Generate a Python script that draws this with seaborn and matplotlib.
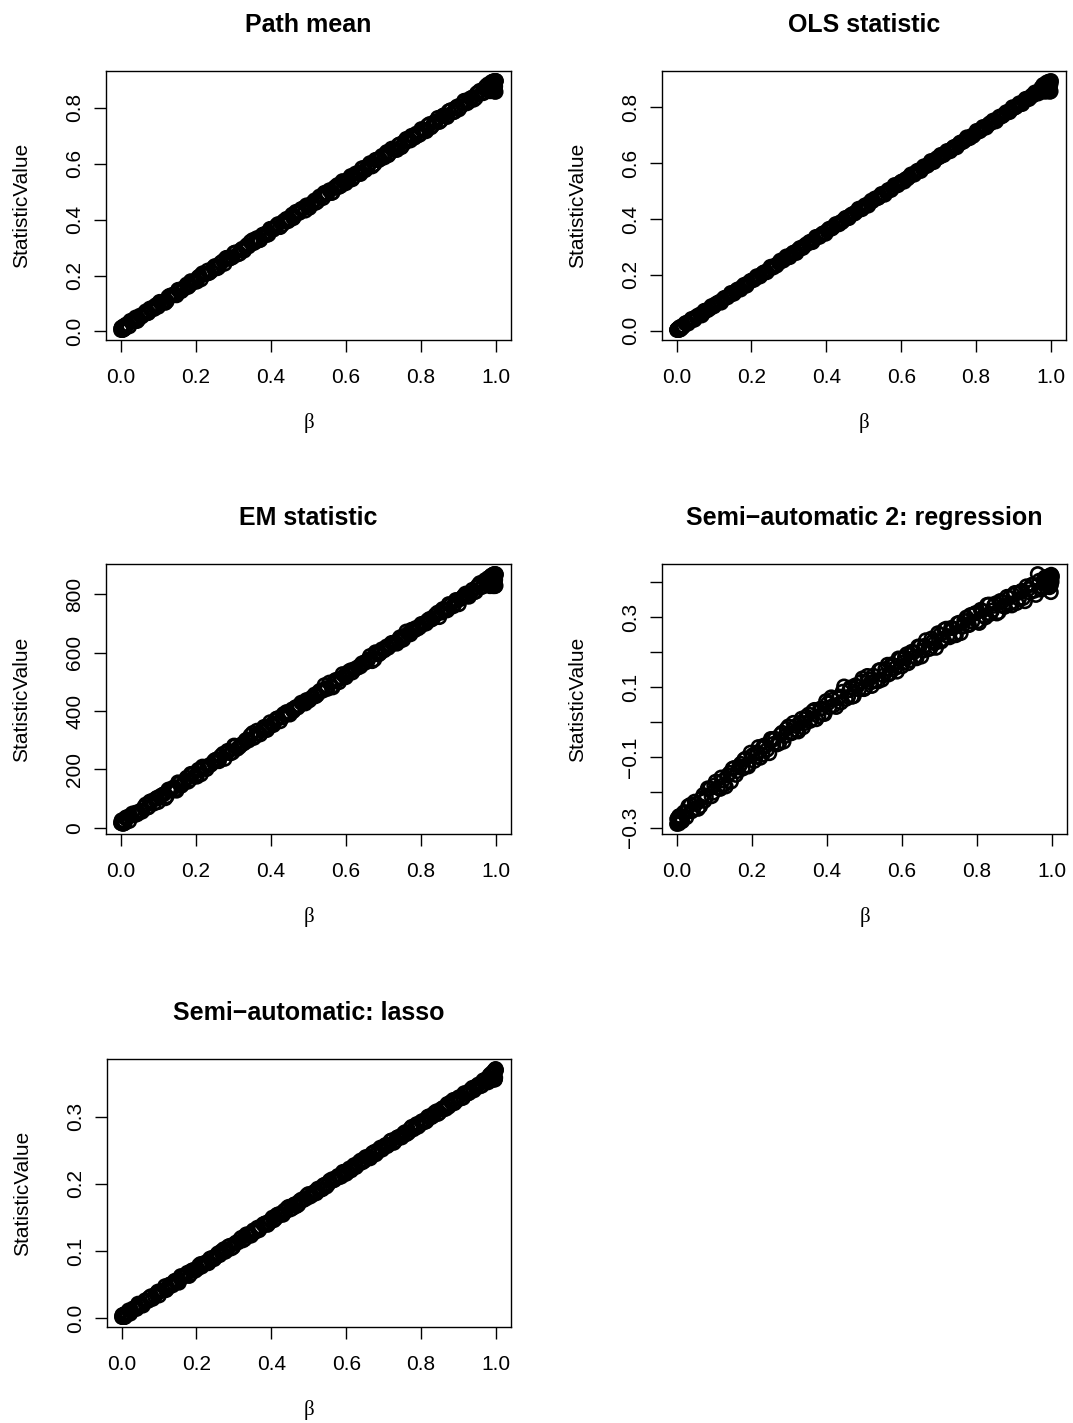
import numpy as np
import matplotlib
matplotlib.use("Agg")
import matplotlib.pyplot as plt
import seaborn as sns

# Simulated beta values shared by every summary statistic (two batches)
beta_a = [
    0.002, 0.011, 0.019, 0.026, 0.037, 0.044, 0.052, 0.063, 0.071, 0.078,
    0.089, 0.097, 0.104, 0.116, 0.123, 0.131, 0.142, 0.149, 0.158, 0.167,
    0.176, 0.184, 0.191, 0.203, 0.211, 0.218, 0.229, 0.236, 0.247, 0.255,
    0.262, 0.273, 0.281, 0.289, 0.298, 0.306, 0.317, 0.324, 0.333, 0.341,
    0.352, 0.359, 0.367, 0.378, 0.386, 0.394, 0.403, 0.412, 0.419, 0.431,
    0.438, 0.446, 0.457, 0.463, 0.472, 0.481, 0.492, 0.499, 0.508, 0.517,
    0.524, 0.536, 0.543, 0.551, 0.562, 0.569, 0.578, 0.587, 0.596, 0.604,
    0.613, 0.621, 0.632, 0.639, 0.648, 0.657, 0.664, 0.676, 0.683, 0.691,
    0.702, 0.709, 0.718, 0.727, 0.736, 0.744, 0.753, 0.761, 0.772, 0.779,
    0.788, 0.797, 0.806, 0.814, 0.823, 0.832, 0.841, 0.849, 0.858, 0.867,
    0.874, 0.886, 0.893, 0.901, 0.912, 0.919, 0.928, 0.937, 0.946, 0.953,
    0.962, 0.971, 0.978, 0.986, 0.993, 0.998, 0.004, 0.995, 0.999, 0.990,
    0.001, 0.007, 0.003, 0.997, 1.000, 0.996, 0.992, 0.006, 0.999, 0.994,
]
beta_b = [
    0.006, 0.015, 0.023, 0.031, 0.040, 0.048, 0.057, 0.067, 0.074, 0.083,
    0.093, 0.100, 0.110, 0.119, 0.127, 0.136, 0.145, 0.153, 0.162, 0.171,
    0.180, 0.187, 0.197, 0.207, 0.214, 0.223, 0.232, 0.241, 0.251, 0.258,
    0.267, 0.277, 0.285, 0.293, 0.302, 0.311, 0.320, 0.329, 0.337, 0.346,
    0.355, 0.363, 0.372, 0.382, 0.390, 0.398, 0.407, 0.415, 0.425, 0.434,
    0.442, 0.451, 0.460, 0.467, 0.476, 0.486, 0.495, 0.503, 0.512, 0.520,
    0.530, 0.539, 0.547, 0.556, 0.565, 0.573, 0.582, 0.591, 0.600, 0.608,
    0.617, 0.626, 0.635, 0.643, 0.652, 0.660, 0.670, 0.679, 0.687, 0.696,
    0.705, 0.713, 0.722, 0.731, 0.740, 0.748, 0.757, 0.766, 0.775, 0.783,
    0.792, 0.801, 0.810, 0.818, 0.827, 0.836, 0.845, 0.853, 0.862, 0.870,
    0.880, 0.889, 0.897, 0.906, 0.915, 0.923, 0.932, 0.941, 0.949, 0.957,
    0.966, 0.974, 0.982, 0.989, 0.996, 0.985, 0.009, 0.013, 0.997, 0.988,
    0.002, 0.005, 0.008, 0.991, 0.998, 0.993, 0.984, 0.010, 0.979, 0.987,
]

path_mean_a = [
    0.012, 0.010, 0.025, 0.038, 0.036, 0.037, 0.057, 0.062, 0.065, 0.082,
    0.080, 0.095, 0.106, 0.107, 0.108, 0.128, 0.133, 0.129, 0.150, 0.151,
    0.168, 0.165, 0.177, 0.178, 0.198, 0.208, 0.206, 0.209, 0.228, 0.232,
    0.231, 0.252, 0.263, 0.260, 0.265, 0.283, 0.278, 0.296, 0.302, 0.304,
    0.327, 0.321, 0.325, 0.346, 0.350, 0.347, 0.367, 0.370, 0.384, 0.382,
    0.397, 0.394, 0.418, 0.412, 0.425, 0.438, 0.432, 0.450, 0.453, 0.469,
    0.464, 0.484, 0.496, 0.492, 0.495, 0.513, 0.524, 0.521, 0.535, 0.538,
    0.556, 0.552, 0.567, 0.563, 0.585, 0.587, 0.602, 0.598, 0.614, 0.616,
    0.622, 0.642, 0.639, 0.653, 0.649, 0.670, 0.669, 0.689, 0.683, 0.697,
    0.708, 0.704, 0.722, 0.716, 0.742, 0.738, 0.752, 0.749, 0.771, 0.770,
    0.788, 0.784, 0.800, 0.794, 0.816, 0.826, 0.822, 0.837, 0.835, 0.855,
    0.853, 0.872, 0.862, 0.884, 0.895, 0.877, 0.006, 0.873, 0.896, 0.876,
    0.005, 0.015, 0.014, 0.858, 0.896, 0.867, 0.859, 0.005, 0.857, 0.894,
]
path_mean_b = [
    0.008, 0.025, 0.018, 0.037, 0.050, 0.044, 0.054, 0.072, 0.066, 0.083,
    0.093, 0.088, 0.105, 0.102, 0.124, 0.129, 0.130, 0.149, 0.144, 0.158,
    0.159, 0.180, 0.177, 0.194, 0.186, 0.205, 0.218, 0.215, 0.234, 0.226,
    0.246, 0.242, 0.264, 0.262, 0.281, 0.275, 0.291, 0.289, 0.309, 0.321,
    0.316, 0.334, 0.327, 0.347, 0.345, 0.367, 0.364, 0.378, 0.373, 0.394,
    0.403, 0.400, 0.405, 0.428, 0.424, 0.440, 0.451, 0.442, 0.461, 0.460,
    0.483, 0.477, 0.493, 0.505, 0.497, 0.518, 0.517, 0.538, 0.530, 0.546,
    0.544, 0.565, 0.565, 0.584, 0.577, 0.594, 0.590, 0.614, 0.612, 0.628,
    0.633, 0.630, 0.654, 0.649, 0.667, 0.659, 0.681, 0.682, 0.700, 0.693,
    0.701, 0.724, 0.719, 0.737, 0.730, 0.749, 0.764, 0.754, 0.774, 0.767,
    0.792, 0.785, 0.805, 0.804, 0.825, 0.816, 0.834, 0.829, 0.852, 0.861,
    0.852, 0.878, 0.863, 0.889, 0.894, 0.863, 0.010, 0.021, 0.868, 0.892,
    0.012, 0.006, 0.019, 0.861, 0.894, 0.894, 0.859, 0.010, 0.884, 0.870,
]

ols_stat_a = [
    0.004, 0.007, 0.016, 0.028, 0.035, 0.038, 0.049, 0.058, 0.062, 0.072,
    0.079, 0.087, 0.095, 0.104, 0.110, 0.118, 0.127, 0.132, 0.141, 0.149,
    0.157, 0.164, 0.170, 0.181, 0.188, 0.194, 0.204, 0.210, 0.220, 0.227,
    0.233, 0.243, 0.250, 0.257, 0.265, 0.272, 0.282, 0.288, 0.296, 0.303,
    0.313, 0.319, 0.326, 0.336, 0.343, 0.350, 0.358, 0.366, 0.372, 0.382,
    0.389, 0.396, 0.405, 0.411, 0.419, 0.427, 0.436, 0.443, 0.451, 0.459,
    0.465, 0.475, 0.482, 0.489, 0.498, 0.505, 0.513, 0.521, 0.529, 0.536,
    0.544, 0.551, 0.560, 0.567, 0.575, 0.582, 0.589, 0.599, 0.606, 0.613,
    0.622, 0.629, 0.636, 0.644, 0.652, 0.659, 0.667, 0.675, 0.684, 0.690,
    0.698, 0.706, 0.714, 0.721, 0.729, 0.737, 0.745, 0.752, 0.760, 0.768,
    0.774, 0.785, 0.791, 0.798, 0.808, 0.814, 0.822, 0.830, 0.838, 0.844,
    0.852, 0.860, 0.866, 0.874, 0.892, 0.880, 0.004, 0.878, 0.887, 0.877,
    0.002, 0.007, 0.004, 0.856, 0.895, 0.863, 0.859, 0.003, 0.858, 0.887,
]
ols_stat_b = [
    0.008, 0.010, 0.026, 0.025, 0.042, 0.039, 0.054, 0.054, 0.071, 0.073,
    0.088, 0.087, 0.100, 0.100, 0.117, 0.119, 0.135, 0.132, 0.147, 0.147,
    0.164, 0.161, 0.178, 0.182, 0.195, 0.194, 0.208, 0.209, 0.229, 0.226,
    0.233, 0.251, 0.251, 0.266, 0.263, 0.279, 0.278, 0.296, 0.296, 0.309,
    0.318, 0.317, 0.336, 0.336, 0.348, 0.347, 0.365, 0.366, 0.382, 0.381,
    0.389, 0.404, 0.403, 0.416, 0.420, 0.437, 0.435, 0.449, 0.448, 0.466,
    0.474, 0.476, 0.490, 0.487, 0.504, 0.504, 0.522, 0.521, 0.534, 0.534,
    0.545, 0.560, 0.559, 0.573, 0.572, 0.589, 0.591, 0.608, 0.604, 0.619,
    0.630, 0.629, 0.644, 0.643, 0.658, 0.657, 0.674, 0.677, 0.693, 0.690,
    0.698, 0.716, 0.715, 0.730, 0.728, 0.743, 0.753, 0.750, 0.767, 0.769,
    0.783, 0.783, 0.801, 0.801, 0.815, 0.812, 0.831, 0.830, 0.843, 0.854,
    0.850, 0.871, 0.860, 0.885, 0.893, 0.861, 0.004, 0.015, 0.865, 0.889,
    0.004, 0.002, 0.012, 0.858, 0.892, 0.890, 0.856, 0.004, 0.881, 0.867,
]

em_stat_a = [
    23, 16, 37, 40, 43, 46, 58, 72, 69, 90,
    83, 103, 107, 116, 108, 132, 139, 127, 154, 152,
    172, 164, 183, 175, 198, 210, 201, 213, 226, 234,
    228, 254, 257, 263, 258, 281, 278, 287, 300, 299,
    325, 314, 325, 336, 344, 343, 355, 367, 376, 378,
    387, 390, 406, 409, 412, 429, 426, 435, 445, 457,
    456, 471, 489, 476, 483, 502, 506, 512, 521, 527,
    540, 542, 549, 553, 566, 573, 589, 577, 599, 598,
    608, 622, 626, 631, 631, 653, 645, 673, 663, 680,
    686, 688, 698, 700, 716, 717, 733, 722, 750, 746,
    767, 759, 781, 766, 791, 803, 792, 816, 809, 832,
    825, 849, 833, 862, 863, 851, 17, 841, 870, 848,
    16, 20, 26, 828, 868, 842, 828, 17, 830, 869,
]
em_stat_b = [
    13, 36, 23, 49, 52, 52, 55, 80, 70, 92,
    99, 88, 112, 101, 131, 131, 130, 156, 144, 161,
    158, 185, 176, 199, 183, 207, 212, 217, 232, 229,
    246, 236, 264, 255, 282, 271, 284, 290, 303, 317,
    308, 333, 320, 346, 335, 362, 352, 374, 365, 390,
    397, 388, 400, 414, 419, 429, 438, 437, 449, 451,
    469, 470, 479, 498, 481, 507, 499, 527, 516, 536,
    532, 546, 553, 564, 566, 577, 571, 602, 594, 612,
    613, 617, 634, 636, 644, 643, 657, 666, 679, 677,
    683, 699, 701, 711, 713, 726, 738, 737, 749, 745,
    765, 766, 779, 785, 796, 793, 804, 807, 825, 839,
    828, 847, 839, 856, 870, 835, 15, 33, 839, 865,
    17, 18, 24, 840, 862, 868, 828, 21, 856, 847,
]

semi_reg_a = [
    -0.276, -0.283, -0.257, -0.271, -0.235, -0.248, -0.232, -0.239, -0.207, -0.214,
    -0.188, -0.201, -0.169, -0.190, -0.166, -0.183, -0.144, -0.132, -0.150, -0.125,
    -0.132, -0.103, -0.126, -0.093, -0.098, -0.070, -0.092, -0.069, -0.088, -0.050,
    -0.046, -0.060, -0.029, -0.039, -0.011, -0.031, -0.010, -0.026, 0.011, -0.002,
    0.023, 0.009, 0.036, 0.018, 0.040, 0.024, 0.055, 0.072, 0.049, 0.069,
    0.057, 0.103, 0.073, 0.100, 0.075, 0.103, 0.116, 0.095, 0.133, 0.114,
    0.134, 0.117, 0.150, 0.134, 0.165, 0.141, 0.163, 0.145, 0.181, 0.171,
    0.195, 0.177, 0.201, 0.183, 0.217, 0.205, 0.235, 0.211, 0.232, 0.213,
    0.251, 0.238, 0.268, 0.243, 0.269, 0.249, 0.285, 0.273, 0.300, 0.278,
    0.288, 0.313, 0.284, 0.319, 0.300, 0.337, 0.320, 0.340, 0.315, 0.344,
    0.330, 0.356, 0.334, 0.370, 0.353, 0.376, 0.346, 0.381, 0.393, 0.376,
    0.424, 0.379, 0.407, 0.414, 0.386, 0.422, -0.285, 0.415, 0.401, 0.402,
    -0.290, -0.270, -0.276, 0.372, 0.418, 0.403, 0.416, -0.289, 0.412, 0.397,
]
semi_reg_b = [
    -0.268, -0.282, -0.256, -0.239, -0.254, -0.226, -0.247, -0.217, -0.224, -0.188,
    -0.211, -0.180, -0.187, -0.157, -0.177, -0.151, -0.169, -0.130, -0.139, -0.118,
    -0.106, -0.123, -0.086, -0.110, -0.085, -0.101, -0.066, -0.078, -0.047, -0.061,
    -0.063, -0.034, -0.055, -0.018, -0.031, -0.001, -0.022, 0.000, -0.014, 0.017,
    0.004, 0.032, 0.009, 0.039, 0.025, 0.061, 0.043, 0.065, 0.044, 0.074,
    0.088, 0.067, 0.092, 0.073, 0.106, 0.094, 0.126, 0.099, 0.123, 0.104,
    0.119, 0.149, 0.122, 0.153, 0.137, 0.166, 0.155, 0.183, 0.160, 0.186,
    0.169, 0.202, 0.188, 0.217, 0.188, 0.219, 0.209, 0.240, 0.226, 0.255,
    0.231, 0.265, 0.247, 0.270, 0.249, 0.283, 0.255, 0.290, 0.278, 0.307,
    0.310, 0.288, 0.322, 0.304, 0.336, 0.310, 0.333, 0.311, 0.347, 0.333,
    0.359, 0.340, 0.364, 0.341, 0.371, 0.355, 0.389, 0.371, 0.394, 0.364,
    0.405, 0.386, 0.415, 0.392, 0.418, 0.414, -0.271, -0.279, 0.392, 0.409,
    -0.275, -0.284, -0.267, 0.418, 0.403, 0.392, 0.409, -0.271, 0.409, 0.398,
]

lasso_a = [
    0.005, 0.005, 0.012, 0.011, 0.016, 0.022, 0.020, 0.027, 0.026, 0.033,
    0.033, 0.040, 0.040, 0.048, 0.045, 0.051, 0.056, 0.055, 0.063, 0.063,
    0.068, 0.066, 0.072, 0.074, 0.081, 0.081, 0.084, 0.089, 0.088, 0.095,
    0.094, 0.103, 0.102, 0.108, 0.106, 0.113, 0.118, 0.116, 0.125, 0.123,
    0.131, 0.130, 0.131, 0.140, 0.142, 0.142, 0.150, 0.149, 0.155, 0.154,
    0.159, 0.166, 0.164, 0.170, 0.169, 0.177, 0.178, 0.185, 0.183, 0.189,
    0.193, 0.192, 0.199, 0.199, 0.207, 0.206, 0.212, 0.211, 0.218, 0.218,
    0.220, 0.228, 0.229, 0.235, 0.234, 0.240, 0.238, 0.248, 0.247, 0.254,
    0.256, 0.256, 0.264, 0.261, 0.269, 0.269, 0.275, 0.274, 0.283, 0.281,
    0.289, 0.288, 0.294, 0.293, 0.301, 0.301, 0.308, 0.306, 0.313, 0.312,
    0.315, 0.325, 0.323, 0.329, 0.328, 0.335, 0.335, 0.343, 0.343, 0.348,
    0.346, 0.355, 0.353, 0.361, 0.366, 0.358, 0.003, 0.356, 0.369, 0.356,
    0.002, 0.006, 0.002, 0.355, 0.369, 0.366, 0.355, 0.002, 0.371, 0.363,
]
lasso_b = [
    0.002, 0.008, 0.007, 0.015, 0.014, 0.020, 0.019, 0.026, 0.031, 0.029,
    0.037, 0.034, 0.042, 0.042, 0.050, 0.049, 0.056, 0.053, 0.061, 0.065,
    0.063, 0.071, 0.071, 0.079, 0.077, 0.083, 0.082, 0.090, 0.091, 0.097,
    0.100, 0.099, 0.107, 0.104, 0.111, 0.113, 0.120, 0.118, 0.125, 0.123,
    0.128, 0.135, 0.135, 0.141, 0.139, 0.146, 0.146, 0.154, 0.154, 0.160,
    0.164, 0.162, 0.169, 0.167, 0.175, 0.176, 0.183, 0.181, 0.187, 0.186,
    0.191, 0.198, 0.196, 0.205, 0.205, 0.209, 0.210, 0.218, 0.215, 0.223,
    0.225, 0.225, 0.233, 0.232, 0.240, 0.239, 0.246, 0.244, 0.251, 0.251,
    0.258, 0.258, 0.265, 0.264, 0.270, 0.269, 0.277, 0.276, 0.285, 0.283,
    0.285, 0.293, 0.292, 0.300, 0.299, 0.306, 0.304, 0.311, 0.311, 0.319,
    0.322, 0.320, 0.327, 0.327, 0.335, 0.334, 0.340, 0.339, 0.346, 0.345,
    0.354, 0.352, 0.361, 0.355, 0.369, 0.363, 0.002, 0.007, 0.356, 0.362,
    0.004, 0.004, 0.003, 0.366, 0.370, 0.355, 0.361, 0.007, 0.351, 0.355,
]

titles = ["Path mean", "OLS statistic", "EM statistic",
          "Semi\u2212automatic 2: regression", "Semi\u2212automatic: lasso"]
x_ticks = [0.0, 0.2, 0.4, 0.6, 0.8, 1.0]
x_tick_labels = ["0.0", "0.2", "0.4", "0.6", "0.8", "1.0"]
y_tick_sets = [
    ([0.0, 0.2, 0.4, 0.6, 0.8], ["0.0", "0.2", "0.4", "0.6", "0.8"]),
    ([0.0, 0.2, 0.4, 0.6, 0.8], ["0.0", "0.2", "0.4", "0.6", "0.8"]),
    ([0, 200, 400, 600, 800], ["0", "200", "400", "600", "800"]),
    ([-0.3, -0.2, -0.1, 0.0, 0.1, 0.2, 0.3, 0.4],
     ["\u22120.3", "", "\u22120.1", "", "0.1", "", "0.3", ""]),
    ([0.0, 0.1, 0.2, 0.3], ["0.0", "0.1", "0.2", "0.3"]),
]
series = [
    (path_mean_a, path_mean_b),
    (ols_stat_a, ols_stat_b),
    (em_stat_a, em_stat_b),
    (semi_reg_a, semi_reg_b),
    (lasso_a, lasso_b),
]

sns.set_style("ticks")
plt.rcParams["font.family"] = ["Liberation Sans", "DejaVu Sans"]
plt.rcParams["text.color"] = "black"
plt.rcParams["axes.labelcolor"] = "black"

W, H = 1073, 1423
fig = plt.figure(figsize=(W / 100, H / 100), dpi=100)

# plot-region boxes in pixels: left, top, right, bottom
boxes = [
    (106, 71, 511, 340),
    (662, 71, 1066, 340),
    (106, 564, 511, 834),
    (662, 564, 1067, 834),
    (107, 1059, 511, 1327),
]


def padded(v):
    lo, hi = min(v), max(v)
    r = hi - lo
    return lo - 0.04 * r, hi + 0.04 * r


beta = beta_a + beta_b
for i, ((ya, yb), (l, t, r, b)) in enumerate(zip(series, boxes)):
    yvals = list(ya) + list(yb)
    ax = fig.add_axes([l / W, 1 - b / H, (r - l) / W, (b - t) / H])
    sns.scatterplot(x=beta, y=yvals, ax=ax, s=90, marker="o",
                    facecolor="none", edgecolor="black", linewidth=1.9,
                    legend=False)
    ax.set_xlim(*padded(beta))
    ax.set_ylim(*padded(yvals))
    ax.set_xticks(x_ticks)
    ax.set_xticklabels(x_tick_labels)
    yt, ytl = y_tick_sets[i]
    ax.set_yticks(yt)
    ax.set_yticklabels(ytl, rotation=90, va="center")
    for sp in ax.spines.values():
        sp.set_visible(True)
        sp.set_color("black")
        sp.set_linewidth(1.0)
    ax.tick_params(axis="both", direction="out", length=8.5, width=1.0,
                   color="black", labelsize=15, labelcolor="black")
    ax.tick_params(axis="x", pad=12)
    ax.tick_params(axis="y", pad=7)
    ax.set_title(titles[i], fontsize=18, fontweight="bold", pad=28,
                 color="black")
    ax.set_xlabel("\u03b2", fontsize=15,
                  family=["Liberation Serif", "DejaVu Serif"])
    ax.set_ylabel("StatisticValue", fontsize=15)
    h = b - t
    w = r - l
    ax.xaxis.set_label_coords(0.5, -(413 - 340) / h)
    ax.yaxis.set_label_coords(-(106 - 31) / w, 0.5)

fig.savefig("out.png", dpi=100)
